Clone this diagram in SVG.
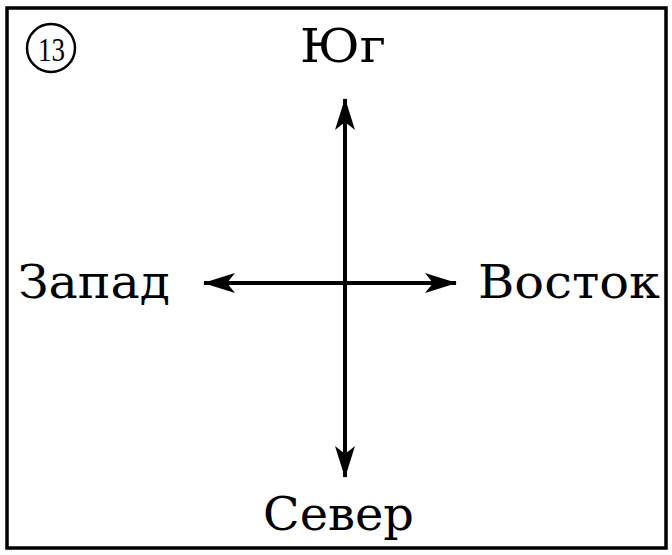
<svg xmlns="http://www.w3.org/2000/svg" width="672" height="555" viewBox="0 0 672 555">
<style>
.lbl{font-family:"DejaVu Serif","Liberation Serif",serif;font-size:46px;fill:#000;text-anchor:start}
.ln{stroke:#000;stroke-width:4;fill:none}
</style>
<defs>
<marker id="ah" viewBox="0 0 32 22" refX="31" refY="11" markerWidth="32" markerHeight="22" markerUnits="userSpaceOnUse" orient="auto-start-reverse">
<path d="M0,1 L32,11 L0,21 L8,11 Z" fill="#000"/>
</marker>
</defs>
<rect x="7" y="8" width="659" height="540" fill="#fff" stroke="#000" stroke-width="3.5"/>
<g id="badge">
<circle cx="51" cy="48" r="24" fill="none" stroke="#000" stroke-width="2.5"/>
<text x="38" y="61" font-family="'Liberation Serif', serif" font-size="34" textLength="27" lengthAdjust="spacingAndGlyphs">13</text>
</g>
<g id="connectors">
<line class="ln" x1="345" y1="99" x2="345" y2="477" marker-start="url(#ah)" marker-end="url(#ah)"/>
<line class="ln" x1="204" y1="283" x2="456" y2="283" marker-start="url(#ah)" marker-end="url(#ah)"/>
</g>
<g id="south"><text class="lbl" x="300" y="62" textLength="86" lengthAdjust="spacingAndGlyphs">Юг</text></g>
<g id="west"><text class="lbl" x="18" y="298" textLength="152" lengthAdjust="spacingAndGlyphs">Запад</text></g>
<g id="east"><text class="lbl" x="478" y="298" textLength="182" lengthAdjust="spacingAndGlyphs">Восток</text></g>
<g id="north"><text class="lbl" x="263" y="530" textLength="151" lengthAdjust="spacingAndGlyphs">Север</text></g>
</svg>
